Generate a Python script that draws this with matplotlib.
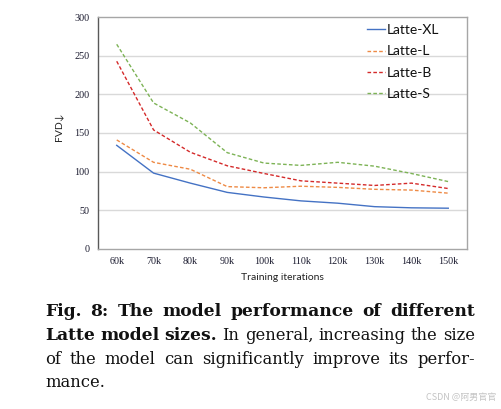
import matplotlib
matplotlib.use("Agg")
import matplotlib.pyplot as plt

iterations = ["60k", "70k", "80k", "90k", "100k", "110k", "120k", "130k", "140k", "150k"]
latte_xl = [134, 98, 85, 73, 67, 62, 59, 54.5, 53, 52.5]
latte_l = [141, 112, 103, 80.5, 79, 81, 79.5, 77, 76, 72]
latte_b = [243, 154, 125, 107.5, 97.5, 88, 85, 82, 85, 78]
latte_s = [265, 189, 163, 124.5, 111, 108, 112, 107, 97.5, 87]
series_names = ["Latte-XL", "Latte-L", "Latte-B", "Latte-S"]
yticks = [0, 50, 100, 150, 200, 250, 300]

W, H = 502, 409
fig = plt.figure(figsize=(W / 100, H / 100), dpi=100)
fig.patch.set_facecolor("white")

def fx(x):
    return x / W

def fy(y):
    return 1 - y / H

ax = fig.add_axes([fx(98.3), fy(248.7), fx(466.7) - fx(98.3), fy(17.3) - fy(248.7)])
x = list(range(len(iterations)))
colors = ["#4472C4", "#EE8A45", "#D42A2A", "#7DB356"]
data = [latte_xl, latte_l, latte_b, latte_s]
styles = ["-", (0, (2.6, 1.6)), (0, (2.6, 1.6)), (0, (2.6, 1.6))]
for vals, c, ls, name in zip(data, colors, styles, series_names):
    ax.plot(x, vals, color=c, linestyle=ls, linewidth=1.0, label=name)

ax.set_xlim(-0.5, len(iterations) - 0.5)
ax.set_ylim(0, 300)
ax.set_yticks(yticks)
ax.set_xticks(x)
ax.set_xticklabels(iterations)
for t in [50, 100, 150, 200, 250]:
    ax.axhline(t, color="#d9d9d9", linewidth=1.0, zorder=0)
ax.tick_params(axis="both", length=0, labelsize=7.3, labelcolor="#1c1c30")
ax.tick_params(axis="y", pad=6.5)
ax.tick_params(axis="x", pad=6)
for lab in ax.get_xticklabels() + ax.get_yticklabels():
    lab.set_fontfamily("Liberation Serif")

ax.spines["left"].set_color("#595959")
ax.spines["bottom"].set_color("#a6a6a6")
ax.spines["top"].set_color("#a6a6a6")
ax.spines["right"].set_color("#a6a6a6")
for s in ax.spines.values():
    s.set_linewidth(1.0)

ax.set_ylabel("FVD↓", family=["Lato", "DejaVu Sans"], fontsize=7.5, color="#222222")
ax.yaxis.set_label_coords(-0.096, 0.526)
ax.set_xlabel("Training iterations", family=["Lato", "DejaVu Sans"], fontsize=7.5, color="#222222")
ax.xaxis.set_label_coords(0.5, (248.7 - 273) / 231.4)

leg = ax.legend(loc="upper left", bbox_to_anchor=(fx(367), fy(24)), bbox_transform=fig.transFigure,
                frameon=False, prop={"family": "Lato", "size": 10}, handlelength=1.3,
                handletextpad=0.15, labelspacing=0.68, borderpad=0, borderaxespad=0)
for t in leg.get_texts():
    t.set_color("#111111")

# Caption with justified lines
lines = [
    [("Fig.", "b"), ("8:", "b"), ("The", "b"), ("model", "b"), ("performance", "b"), ("of", "b"), ("different", "b")],
    [("Latte", "b"), ("model", "b"), ("sizes.", "b"), ("In", "r"), ("general,", "r"), ("increasing", "r"), ("the", "r"), ("size", "r")],
    [("of", "r"), ("the", "r"), ("model", "r"), ("can", "r"), ("significantly", "r"), ("improve", "r"), ("its", "r"), ("perfor-", "r")],
    [("mance.", "r")],
]
baselines = [316, 340, 363.5, 387]
left, right = 45, 475
fs_bold = 12.3
fs_reg = 11.8
fig.canvas.draw()
renderer = fig.canvas.get_renderer()
for li, (words, yb) in enumerate(zip(lines, baselines)):
    texts = []
    widths = []
    for w, wt in words:
        t = fig.text(0, fy(yb), w, fontfamily="DejaVu Serif",
                     fontsize=fs_bold if wt == "b" else fs_reg,
                     fontweight="bold" if wt == "b" else "normal",
                     va="baseline", ha="left", color="#111111")
        texts.append(t)
        widths.append(t.get_window_extent(renderer).width)
    total = sum(widths)
    if li < len(lines) - 1 and len(words) > 1:
        gap = (right - left - total) / (len(words) - 1)
    else:
        gap = 5.5
    xpos = left
    for t, wdt in zip(texts, widths):
        t.set_x(fx(xpos))
        xpos += wdt + gap

fig.text(fx(496), fy(400), "CSDN @阿男官官", family=["Noto Sans CJK SC", "DejaVu Sans"],
         fontsize=6.5, color="#c4c4c4", ha="right", va="baseline")

fig.savefig("out.png", dpi=100)
